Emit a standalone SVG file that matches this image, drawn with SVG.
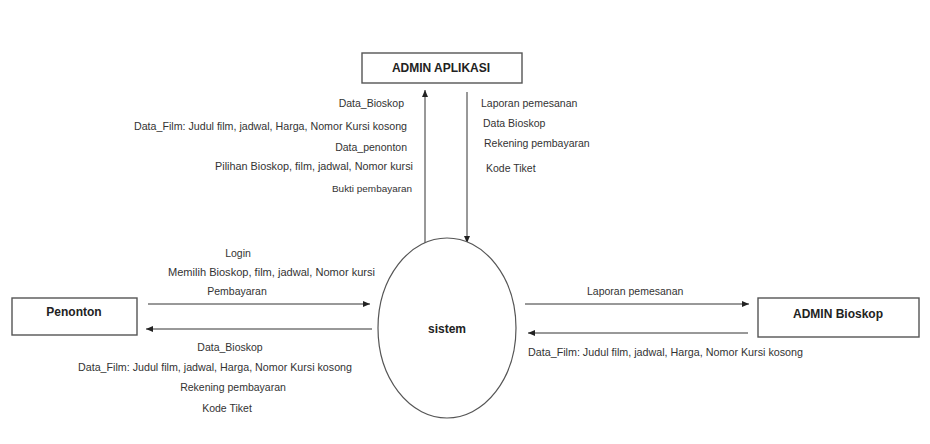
<svg xmlns="http://www.w3.org/2000/svg" width="930" height="444" viewBox="0 0 930 444">
<style>
.box{fill:#fff;stroke:#555;stroke-width:1.4}
.ell{fill:#fff;stroke:#555;stroke-width:1.2}
.ttl{font-family:"Liberation Sans",Arial,sans-serif;font-weight:bold;font-size:12px;fill:#222;text-anchor:middle}
.lbl{font-family:"Liberation Sans",Arial,sans-serif;font-size:10.5px;fill:#333}
.sm{font-size:9.5px}
.ln{stroke:#333;stroke-width:1;fill:none;marker-end:url(#ah)}
</style>
<defs>
<marker id="ah" markerUnits="userSpaceOnUse" markerWidth="8" markerHeight="6" refX="7" refY="3" orient="auto">
<path d="M0,0 L7,3 L0,6 z" fill="#222"/>
</marker>
</defs>
<rect width="930" height="444" fill="#fff"/>
<g id="connectors">
<line class="ln" x1="148" y1="304" x2="370" y2="304"/>
<line class="ln" x1="372" y1="329" x2="146" y2="329"/>
<line class="ln" x1="425" y1="243" x2="425" y2="90"/>
<line class="ln" x1="467" y1="92" x2="467" y2="243"/>
<line class="ln" x1="525" y1="304" x2="749" y2="304"/>
<line class="ln" x1="748" y1="333" x2="528" y2="333"/>
</g>
<g id="labels">
<text class="lbl" x="238" y="257" text-anchor="middle">Login</text>
<text class="lbl" x="168" y="276" textLength="207" lengthAdjust="spacingAndGlyphs">Memilih Bioskop, film, jadwal, Nomor kursi</text>
<text class="lbl" x="237" y="295" text-anchor="middle">Pembayaran</text>
<text class="lbl" x="230" y="351" text-anchor="middle">Data_Bioskop</text>
<text class="lbl" x="78" y="371" textLength="274" lengthAdjust="spacingAndGlyphs">Data_Film: Judul film, jadwal, Harga, Nomor Kursi kosong</text>
<text class="lbl" x="233" y="391" text-anchor="middle">Rekening pembayaran</text>
<text class="lbl" x="227" y="412" text-anchor="middle">Kode Tiket</text>
<text class="lbl" x="404" y="107" text-anchor="end">Data_Bioskop</text>
<text class="lbl" x="134" y="130" textLength="273" lengthAdjust="spacingAndGlyphs">Data_Film: Judul film, jadwal, Harga, Nomor Kursi kosong</text>
<text class="lbl" x="407" y="151" text-anchor="end">Data_penonton</text>
<text class="lbl" x="215" y="170" textLength="198" lengthAdjust="spacingAndGlyphs">Pilihan Bioskop, film, jadwal, Nomor kursi</text>
<text class="lbl sm" x="332" y="192" textLength="80" lengthAdjust="spacingAndGlyphs">Bukti pembayaran</text>
<text class="lbl" x="481" y="107">Laporan pemesanan</text>
<text class="lbl" x="483" y="127">Data Bioskop</text>
<text class="lbl" x="484" y="147">Rekening pembayaran</text>
<text class="lbl" x="486" y="172">Kode Tiket</text>
<text class="lbl" x="587" y="295">Laporan pemesanan</text>
<text class="lbl" x="528" y="356" textLength="275" lengthAdjust="spacingAndGlyphs">Data_Film: Judul film, jadwal, Harga, Nomor Kursi kosong</text>
</g>
<g id="admin-aplikasi">
<rect class="box" x="362" y="53" width="160" height="30"/>
<text class="ttl" x="441" y="72">ADMIN APLIKASI</text>
</g>
<g id="penonton">
<rect class="box" x="12" y="298" width="125" height="37"/>
<text class="ttl" x="74" y="316">Penonton</text>
</g>
<g id="sistem">
<ellipse class="ell" cx="447" cy="328" rx="69" ry="90"/>
<text class="ttl" x="447" y="333">sistem</text>
</g>
<g id="admin-bioskop">
<rect class="box" x="758" y="298" width="161" height="39"/>
<text class="ttl" x="838" y="318">ADMIN Bioskop</text>
</g>
</svg>
